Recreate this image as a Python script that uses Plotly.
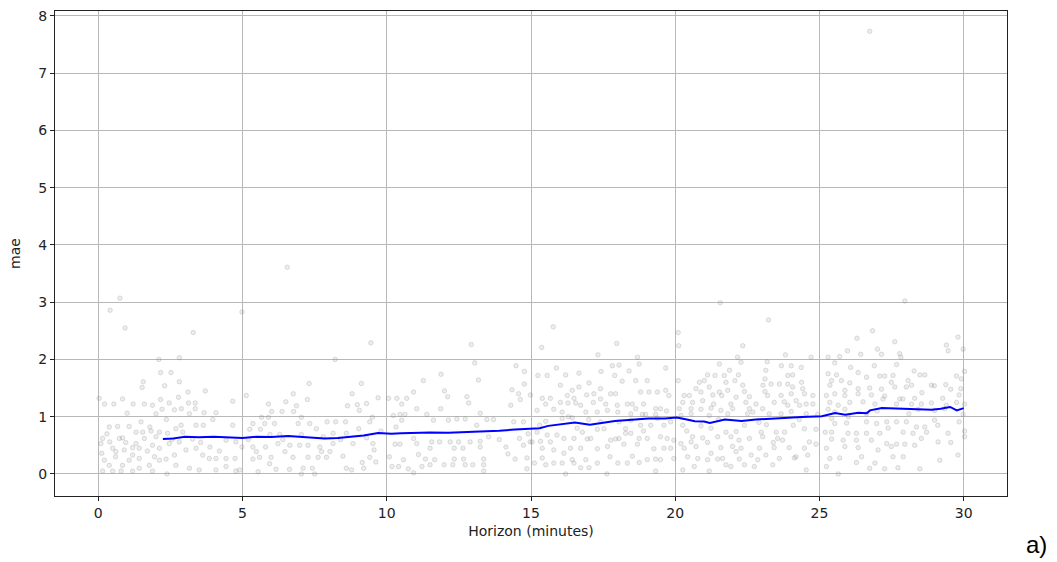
import plotly.graph_objects as go

# Per-point MAE by forecast horizon (minutes), grouped in horizon bands
band_0_5 = [
    (0.75, 3.07), (0.41, 2.86), (0.93, 2.55), (3.29, 2.47), (2.10, 2.00), (2.81, 2.03),
    (2.16, 1.77), (2.52, 1.77), (1.56, 1.61), (1.52, 1.51), (2.30, 1.54), (2.81, 1.61),
    (3.11, 1.43), (3.71, 1.45), (2.78, 1.34), (0.03, 1.32), (0.22, 1.22), (0.54, 1.22),
    (0.84, 1.31), (1.21, 1.22), (1.60, 1.22), (1.88, 1.20), (2.16, 1.30), (2.46, 1.24),
    (3.13, 1.24), (3.36, 1.24), (2.21, 1.13), (2.64, 1.12), (2.88, 1.14), (3.36, 1.14),
    (4.66, 1.27), (1.00, 1.06), (2.00, 1.05), (2.36, 0.95), (3.16, 1.05), (3.67, 1.07),
    (4.08, 1.07), (3.97, 0.95), (1.48, 0.91), (0.38, 0.82), (0.67, 0.83), (1.07, 0.83),
    (1.31, 0.73), (1.54, 0.73), (1.79, 0.82), (1.83, 0.75), (2.12, 0.73), (2.40, 0.71),
    (2.87, 0.85), (2.93, 0.73), (3.39, 0.85), (3.64, 0.85), (4.66, 0.85), (0.15, 0.62),
    (0.40, 0.56), (0.73, 0.62), (0.84, 0.63), (1.31, 0.53), (1.60, 0.62), (1.88, 0.50),
    (2.46, 0.53), (2.81, 0.56), (3.27, 0.61), (3.39, 0.45), (3.87, 0.47), (4.43, 0.59),
    (0.50, 0.45), (0.61, 0.39), (0.90, 0.42), (1.19, 0.46), (1.42, 0.45), (2.12, 0.45),
    (2.64, 0.33), (3.04, 0.42), (3.62, 0.33), (4.08, 0.27), (4.43, 0.27), (4.74, 0.27),
    (0.21, 0.24), (0.38, 0.15), (0.84, 0.15), (1.07, 0.24), (1.42, 0.10), (1.77, 0.15),
    (2.12, 0.24), (2.69, 0.15), (3.16, 0.10), (3.50, 0.07), (0.15, 0.05), (0.50, 0.05),
    (0.79, 0.05), (1.19, 0.05), (1.88, 0.05), (2.38, 0.00), (4.08, 0.07), (4.43, 0.13),
    (4.77, 0.05), (0.09, 0.53), (0.12, 0.36), (1.19, 0.33), (1.42, 0.27), (2.35, 0.26),
    (2.00, 0.65), (2.69, 0.79), (3.85, 0.27), (4.77, 0.56), (0.30, 0.70), (0.95, 0.55),
    (1.70, 0.40), (2.55, 0.60), (3.55, 0.55), (4.20, 0.40), (0.60, 0.30), (1.95, 0.30),
]

band_5_10 = [
    (6.55, 3.61), (4.98, 2.83), (9.45, 2.29), (8.21, 2.00), (7.31, 1.58), (9.12, 1.58),
    (5.13, 1.37), (6.76, 1.40), (8.80, 1.40), (5.90, 1.22), (6.50, 1.26), (6.87, 1.19),
    (7.25, 1.30), (6.01, 1.09), (6.37, 1.09), (6.77, 1.09), (8.64, 1.19), (8.98, 1.21),
    (9.30, 1.23), (9.70, 1.33), (9.05, 1.11), (5.66, 0.99), (5.90, 0.99), (7.04, 0.99),
    (9.50, 0.99), (5.36, 0.88), (5.77, 0.88), (6.11, 0.88), (6.93, 0.88), (7.33, 0.88),
    (7.93, 0.91), (8.23, 0.91), (8.57, 0.91), (9.41, 0.91), (9.03, 0.79), (5.25, 0.78),
    (5.62, 0.78), (5.95, 0.69), (6.29, 0.69), (7.04, 0.69), (7.56, 0.79), (8.14, 0.71),
    (8.60, 0.71), (4.98, 0.47), (5.36, 0.47), (5.80, 0.47), (6.23, 0.53), (6.64, 0.50),
    (6.98, 0.50), (7.27, 0.50), (7.68, 0.47), (8.14, 0.53), (8.83, 0.53), (9.52, 0.53),
    (9.30, 0.63), (5.48, 0.39), (6.47, 0.39), (7.74, 0.39), (8.03, 0.39), (5.59, 0.29),
    (5.99, 0.29), (6.75, 0.29), (7.27, 0.29), (7.62, 0.29), (7.91, 0.29), (8.48, 0.31),
    (9.41, 0.29), (9.56, 0.42), (5.36, 0.26), (5.94, 0.18), (6.16, 0.08), (6.63, 0.08),
    (7.10, 0.10), (7.42, 0.10), (8.60, 0.10), (8.78, 0.07), (9.20, 0.10), (9.62, 0.21),
    (5.54, 0.04), (7.04, 0.00), (7.50, 0.00), (4.90, 0.07), (9.15, 0.20), (6.40, 0.60),
    (8.40, 0.60), (9.80, 0.75), (7.80, 0.65), (5.20, 0.60),
]

band_10_15 = [
    (12.93, 2.26), (13.05, 1.94), (14.48, 1.89), (14.77, 1.79), (11.88, 1.74), (11.27, 1.63),
    (13.18, 1.64), (14.77, 1.57), (10.93, 1.43), (12.00, 1.45), (12.11, 1.35), (14.34, 1.47),
    (14.57, 1.40), (14.63, 1.30), (10.06, 1.32), (10.35, 1.32), (10.69, 1.32), (10.52, 1.22),
    (12.78, 1.35), (12.84, 1.24), (14.30, 1.20), (11.04, 1.14), (11.87, 1.14), (13.24, 1.06),
    (11.39, 1.04), (10.23, 1.02), (10.46, 1.04), (10.63, 1.04), (10.52, 0.94), (11.62, 0.94),
    (12.14, 0.94), (12.43, 0.96), (12.72, 0.96), (13.47, 0.95), (13.70, 0.95), (14.40, 0.91),
    (14.74, 0.91), (13.12, 0.85), (10.32, 0.82), (10.93, 0.62), (11.56, 0.56), (11.83, 0.56),
    (12.20, 0.56), (12.49, 0.56), (12.89, 0.56), (13.24, 0.57), (13.53, 0.65), (10.29, 0.52),
    (10.46, 0.52), (11.04, 0.53), (11.50, 0.45), (12.34, 0.45), (12.64, 0.45), (13.24, 0.47),
    (14.13, 0.47), (14.74, 0.50), (14.97, 0.56), (11.10, 0.34), (10.09, 0.30), (10.58, 0.25),
    (11.34, 0.26), (11.66, 0.25), (12.34, 0.26), (12.66, 0.26), (13.36, 0.26), (14.45, 0.26),
    (14.86, 0.28), (10.18, 0.13), (10.41, 0.13), (10.75, 0.09), (11.22, 0.13), (11.50, 0.16),
    (11.99, 0.16), (12.29, 0.16), (12.72, 0.16), (12.98, 0.16), (13.36, 0.16), (14.86, 0.09),
    (10.93, 0.02), (13.36, 0.05), (14.90, 0.70), (14.60, 0.62), (13.90, 0.60), (14.20, 0.35),
]

band_15_20 = [
    (15.77, 2.57), (15.37, 2.21), (17.97, 2.28), (17.32, 2.08), (18.69, 2.04), (17.82, 1.89),
    (18.05, 1.90), (18.75, 1.92), (19.67, 1.85), (15.88, 1.85), (15.24, 1.72), (15.56, 1.72),
    (16.20, 1.73), (16.66, 1.76), (17.43, 1.79), (17.90, 1.72), (18.40, 1.80), (18.16, 1.62),
    (18.63, 1.63), (19.03, 1.63), (16.02, 1.55), (16.43, 1.46), (16.66, 1.52), (17.01, 1.59),
    (17.41, 1.49), (16.93, 1.38), (17.18, 1.40), (17.76, 1.40), (17.93, 1.40), (18.80, 1.43),
    (19.09, 1.43), (19.38, 1.43), (19.67, 1.46), (19.78, 1.37), (14.98, 1.38), (16.26, 1.37),
    (15.39, 1.32), (15.67, 1.32), (16.49, 1.32), (17.41, 1.31), (15.51, 1.22), (16.02, 1.25),
    (16.28, 1.24), (16.55, 1.24), (16.72, 1.20), (17.16, 1.25), (17.59, 1.22), (17.99, 1.20),
    (18.34, 1.22), (18.51, 1.22), (18.90, 1.22), (18.63, 1.14), (19.32, 1.14), (19.49, 1.14),
    (15.21, 1.11), (15.79, 1.13), (16.08, 1.08), (16.90, 1.08), (17.30, 1.08), (17.65, 1.11),
    (18.01, 1.08), (18.46, 1.05), (18.86, 1.04), (18.97, 1.04), (19.32, 1.04), (19.38, 0.97),
    (15.51, 0.92), (16.08, 0.97), (16.43, 0.98), (17.41, 0.91), (18.05, 0.91), (18.46, 0.94),
    (18.80, 0.85), (19.15, 0.85), (19.61, 0.85), (19.84, 0.91), (17.30, 0.78), (17.53, 0.79),
    (18.28, 0.79), (16.78, 0.73), (18.28, 0.71), (18.46, 0.71), (15.21, 0.73), (15.56, 0.68),
    (15.90, 0.68), (16.14, 0.62), (16.49, 0.62), (16.95, 0.61), (17.07, 0.62), (17.76, 0.59),
    (17.93, 0.61), (18.05, 0.62), (18.75, 0.62), (19.03, 0.62), (19.49, 0.65), (19.72, 0.62),
    (19.95, 0.59), (15.04, 0.56), (15.33, 0.57), (15.67, 0.56), (16.37, 0.45), (16.72, 0.45),
    (17.30, 0.44), (17.65, 0.48), (18.22, 0.52), (18.69, 0.52), (19.26, 0.44), (19.61, 0.45),
    (19.84, 0.45), (15.39, 0.45), (15.79, 0.42), (16.14, 0.36), (15.39, 0.28), (16.43, 0.25),
    (16.90, 0.25), (17.74, 0.30), (18.51, 0.31), (19.32, 0.26), (19.49, 0.25), (15.12, 0.19),
    (15.51, 0.16), (15.79, 0.19), (16.08, 0.19), (16.49, 0.19), (16.72, 0.11), (17.01, 0.11),
    (17.30, 0.19), (18.01, 0.19), (18.34, 0.19), (18.75, 0.20), (19.03, 0.25), (19.32, 0.05),
    (16.20, 0.00), (17.63, 0.00), (19.95, 0.27), (20.10, 2.47), (20.12, 2.24), (20.10, 1.63),
    (15.30, 0.85), (16.60, 0.80), (17.00, 0.95), (18.90, 0.75), (19.70, 1.10), (16.30, 1.00),
]

band_20_25 = [
    (21.56, 2.99), (23.23, 2.69), (22.34, 2.24), (22.16, 2.04), (22.28, 1.95), (23.82, 2.08),
    (24.71, 2.04), (21.53, 1.92), (23.19, 1.96), (23.68, 1.89), (24.02, 1.89), (24.37, 1.86),
    (21.12, 1.73), (21.38, 1.72), (21.70, 1.72), (21.88, 1.81), (22.19, 1.73), (23.14, 1.81),
    (23.90, 1.72), (24.07, 1.73), (20.84, 1.60), (21.01, 1.63), (21.76, 1.60), (22.07, 1.63),
    (23.11, 1.66), (23.32, 1.57), (23.61, 1.57), (23.90, 1.57), (24.38, 1.60), (20.72, 1.49),
    (21.18, 1.52), (21.53, 1.43), (21.82, 1.46), (22.34, 1.55), (22.40, 1.44), (23.04, 1.55),
    (23.11, 1.44), (24.07, 1.52), (24.42, 1.49), (20.31, 1.37), (20.49, 1.37), (20.89, 1.43),
    (21.30, 1.38), (21.61, 1.37), (22.11, 1.34), (22.57, 1.35), (23.20, 1.37), (23.67, 1.37),
    (24.02, 1.40), (24.48, 1.40), (24.77, 1.37), (20.26, 1.25), (20.60, 1.25), (20.95, 1.28),
    (21.33, 1.22), (21.93, 1.22), (22.45, 1.25), (22.80, 1.22), (23.43, 1.25), (23.78, 1.26),
    (24.19, 1.28), (24.54, 1.22), (24.77, 1.22), (20.14, 1.14), (20.55, 1.14), (20.89, 1.13),
    (21.24, 1.15), (21.58, 1.11), (21.99, 1.14), (22.57, 1.14), (23.03, 1.14), (23.90, 1.20),
    (24.31, 1.20), (20.20, 1.02), (20.55, 1.05), (21.18, 1.02), (21.82, 1.05), (22.51, 1.05),
    (22.69, 1.08), (23.26, 1.05), (23.67, 1.05), (24.02, 1.09), (24.54, 1.05), (24.94, 1.04),
    (20.26, 0.85), (20.89, 0.84), (21.24, 0.80), (21.76, 0.73), (22.11, 0.74), (22.40, 0.85),
    (22.98, 0.73), (23.16, 0.86), (23.50, 0.73), (23.79, 0.73), (24.09, 0.85), (24.48, 0.79),
    (24.88, 0.78), (20.60, 0.65), (20.95, 0.63), (21.47, 0.65), (21.93, 0.65), (22.21, 0.59),
    (22.57, 0.62), (23.03, 0.65), (23.55, 0.62), (23.72, 0.59), (24.65, 0.56), (20.20, 0.53),
    (20.55, 0.56), (21.12, 0.55), (21.58, 0.46), (21.99, 0.48), (22.28, 0.45), (22.92, 0.45),
    (23.43, 0.46), (23.95, 0.46), (24.48, 0.45), (24.88, 0.52), (20.31, 0.45), (20.72, 0.48),
    (21.24, 0.36), (22.11, 0.39), (22.63, 0.33), (23.14, 0.33), (24.13, 0.28), (24.59, 0.33),
    (20.43, 0.30), (20.78, 0.27), (21.12, 0.25), (21.47, 0.26), (21.64, 0.27), (22.22, 0.26),
    (22.86, 0.25), (23.61, 0.27), (24.19, 0.30), (21.76, 0.16), (21.93, 0.13), (22.40, 0.16),
    (22.74, 0.13), (23.38, 0.16), (20.66, 0.13), (20.26, 0.07), (21.18, 0.05), (24.54, 0.07),
    (25.20, 0.73), (21.50, 0.95), (22.90, 0.90), (24.30, 0.95), (20.40, 0.75), (23.40, 0.55),
]

band_25_30 = [
    (26.74, 7.73), (27.96, 3.02), (26.84, 2.50), (26.30, 2.37), (27.61, 2.31), (29.80, 2.39),
    (29.40, 2.25), (29.98, 2.18), (25.97, 2.15), (27.01, 2.18), (27.15, 2.09), (27.78, 2.10),
    (26.43, 2.09), (29.46, 2.15), (25.30, 2.04), (25.70, 2.05), (27.82, 2.04), (25.53, 1.94),
    (26.08, 1.86), (26.90, 1.89), (27.67, 1.91), (25.30, 1.75), (25.59, 1.73), (26.34, 1.77),
    (26.63, 1.69), (27.09, 1.71), (27.26, 1.71), (27.55, 1.72), (28.28, 1.80), (28.48, 1.73),
    (28.65, 1.73), (29.75, 1.71), (29.92, 1.66), (25.42, 1.63), (25.76, 1.63), (26.05, 1.59),
    (27.49, 1.60), (28.07, 1.63), (28.19, 1.55), (28.88, 1.55), (30.03, 1.79), (25.36, 1.55),
    (25.88, 1.46), (26.34, 1.49), (26.74, 1.50), (27.15, 1.48), (27.61, 1.52), (28.01, 1.52),
    (28.98, 1.54), (29.38, 1.56), (29.55, 1.48), (29.90, 1.49), (25.24, 1.37), (25.53, 1.40),
    (25.88, 1.37), (26.34, 1.40), (26.80, 1.38), (27.26, 1.36), (27.78, 1.31), (27.89, 1.31),
    (28.30, 1.32), (28.55, 1.42), (29.27, 1.32), (29.84, 1.38), (25.36, 1.25), (25.65, 1.20),
    (26.05, 1.25), (26.51, 1.26), (26.92, 1.22), (27.20, 1.31), (27.67, 1.22), (28.19, 1.22),
    (28.53, 1.22), (28.88, 1.24), (29.40, 1.20), (29.75, 1.25), (30.03, 1.22), (25.30, 1.13),
    (25.53, 1.08), (25.88, 1.13), (26.63, 1.05), (28.42, 1.13), (28.99, 1.11), (29.34, 1.14),
    (29.98, 1.04), (25.42, 0.97), (25.53, 0.88), (25.94, 0.89), (26.63, 0.91), (26.98, 0.88),
    (27.33, 0.91), (27.67, 0.91), (28.01, 0.91), (28.36, 0.82), (28.65, 0.82), (28.99, 0.94),
    (29.84, 0.91), (25.42, 0.73), (25.99, 0.71), (26.28, 0.71), (26.63, 0.71), (27.09, 0.71),
    (27.38, 0.80), (27.90, 0.73), (28.24, 0.71), (28.71, 0.73), (29.46, 0.71), (30.03, 0.75),
    (25.42, 0.61), (25.82, 0.59), (26.28, 0.59), (26.80, 0.59), (27.33, 0.53), (27.67, 0.52),
    (27.96, 0.52), (28.53, 0.62), (29.11, 0.56), (29.55, 0.55), (30.03, 0.65), (25.88, 0.48),
    (26.34, 0.46), (27.03, 0.42), (27.49, 0.48), (28.30, 0.50), (25.24, 0.45), (25.36, 0.27),
    (25.70, 0.28), (26.46, 0.30), (27.55, 0.30), (27.90, 0.30), (29.17, 0.24), (29.80, 0.33),
    (25.24, 0.13), (26.28, 0.20), (26.74, 0.10), (26.92, 0.19), (27.26, 0.09), (27.72, 0.11),
    (28.48, 0.09), (25.65, 0.00), (26.00, 1.00), (27.00, 1.10), (28.10, 1.05), (29.10, 0.85),
]

# Rolling mean of MAE along the horizon
rolling_horizon = [
    2.24, 2.6, 3.0, 3.5, 4.0, 4.5, 5.0, 5.5, 6.0, 6.58, 7.0, 7.5, 7.85, 8.3, 8.78, 9.2,
    9.7, 10.16, 10.5, 10.97, 11.5, 12.13, 12.7, 13.28, 13.9, 14.44, 15.02, 15.3, 15.6,
    16.0, 16.52, 17.04, 17.5, 17.91, 18.5, 19.07, 19.64, 20.05, 20.4, 20.68, 21.0, 21.2,
    21.72, 22.3, 22.8, 23.23, 23.8, 24.38, 25.08, 25.54, 25.89, 26.35, 26.64, 26.75,
    27.16, 27.6, 28.09, 28.5, 28.89, 29.2, 29.53, 29.76, 30.0,
]
rolling_mae = [
    0.61, 0.62, 0.65, 0.64, 0.65, 0.64, 0.63, 0.65, 0.645, 0.665, 0.65, 0.635, 0.62, 0.63,
    0.65, 0.67, 0.715, 0.70, 0.71, 0.72, 0.725, 0.72, 0.73, 0.75, 0.755, 0.775, 0.79, 0.80,
    0.84, 0.87, 0.90, 0.86, 0.89, 0.925, 0.945, 0.97, 0.97, 0.985, 0.95, 0.92, 0.915, 0.89,
    0.95, 0.925, 0.95, 0.965, 0.975, 0.995, 1.007, 1.065, 1.035, 1.07, 1.06, 1.11, 1.15,
    1.14, 1.14, 1.13, 1.12, 1.14, 1.17, 1.11, 1.15,
]

x_ticks = [0, 5, 10, 15, 20, 25, 30]
y_ticks = [0, 1, 2, 3, 4, 5, 6, 7, 8]

points = band_0_5 + band_5_10 + band_10_15 + band_15_20 + band_20_25 + band_25_30
horizon = [p[0] for p in points]
mae = [p[1] for p in points]

fig = go.Figure()
fig.add_trace(go.Scatter(
    x=horizon, y=mae, mode="markers",
    marker=dict(size=4.5, color="rgba(128,128,128,0.14)",
                line=dict(width=1, color="rgba(128,128,128,0.24)")),
    showlegend=False, hoverinfo="skip",
))
fig.add_trace(go.Scatter(
    x=rolling_horizon, y=rolling_mae, mode="lines",
    line=dict(color="#0000ff", width=2),
    showlegend=False,
))

font = dict(family="DejaVu Sans, sans-serif", size=14, color="#222222")
axis_common = dict(
    showline=True, mirror=True, linecolor="#222222", linewidth=1,
    ticks="outside", ticklen=4, tickwidth=1, tickcolor="#222222",
    showgrid=True, gridcolor="#b8b8b8", gridwidth=1, zeroline=False,
    tickfont=font,
)
fig.update_xaxes(range=[-1.5, 31.5], tickvals=x_ticks,
                 title=dict(text="Horizon (minutes)", font=font, standoff=6),
                 **axis_common)
fig.update_yaxes(range=[-0.385, 8.085], tickvals=y_ticks,
                 title=dict(text="mae", font=font, standoff=14),
                 **axis_common)

fig.add_annotation(
    text="a)", xref="paper", yref="paper", x=1.031, y=-0.1,
    showarrow=False, xanchor="center", yanchor="middle",
    font=dict(family="Liberation Sans, Arial, sans-serif", size=24, color="#000000"),
)

fig.update_layout(
    width=1057, height=562,
    margin=dict(l=55, r=50, t=8, b=66),
    plot_bgcolor="white", paper_bgcolor="white",
    font=font,
)

fig.write_html("out.html")
